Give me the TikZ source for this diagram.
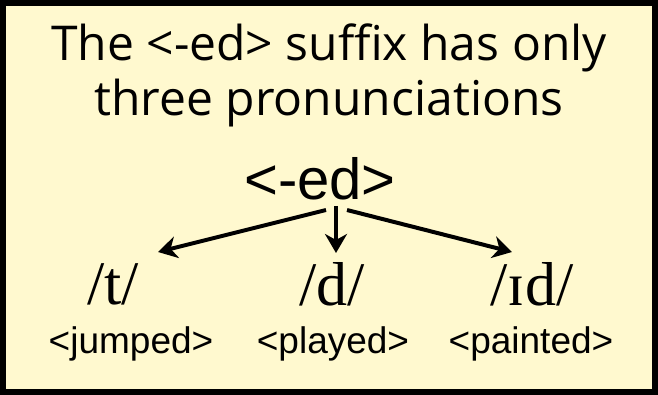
\documentclass[tikz,border=0pt]{standalone}
\usepackage{fontspec}
\setmainfont{Liberation Sans}
\newfontfamily\handfont{Open Sans}
\newfontfamily\ipafont{Liberation Serif}
\usetikzlibrary{arrows.meta,calc}
\definecolor{bgyellow}{RGB}{255,249,207}
\begin{document}
\begin{tikzpicture}[x=1pt,y=-1pt,
  arr/.style={-{Stealth[length=19pt,width=22pt,inset=6pt]}, line width=4pt},
  hand/.style={inner sep=0pt, font=\fontsize{48}{54}\selectfont\handfont},
  ipa/.style={inner sep=0pt, font=\fontsize{62}{66}\selectfont\ipafont},
  word/.style={inner sep=0pt, font=\fontsize{37}{42}\selectfont},
  root/.style={inner sep=0pt, font=\fontsize{58}{62}\selectfont}]
\useasboundingbox (0,0) rectangle (658,395);
\draw[line width=6pt, fill=bgyellow] (3,3) rectangle (655,392);
\node[hand] (title1) at (329,48) {The <-ed> suffix has only};
\node[hand] (title2) at (329,103) {three pronunciations};
\node[root] (ed) at (320,179) {<-ed>};
\node[ipa] (t) at (113,284) {/t/};
\node[ipa] (d) at (332,284) {/d/};
\node[ipa] (id) at (532,284) {/\char"026A d/};
\node[word] (w1) at (131,344) {<jumped>};
\node[word] (w2) at (333,344) {<played>};
\node[word] (w3) at (531,344) {<painted>};
\draw[arr] ($(ed.center)+(6,31)$) -- ($(t.center)+(45,-32)$);
\draw[arr] ($(ed.center)+(16,27)$) -- ($(d.center)+(4,-31)$);
\draw[arr] ($(ed.center)+(27,31)$) -- ($(id.center)+(-20,-32)$);
\end{tikzpicture}
\end{document}
